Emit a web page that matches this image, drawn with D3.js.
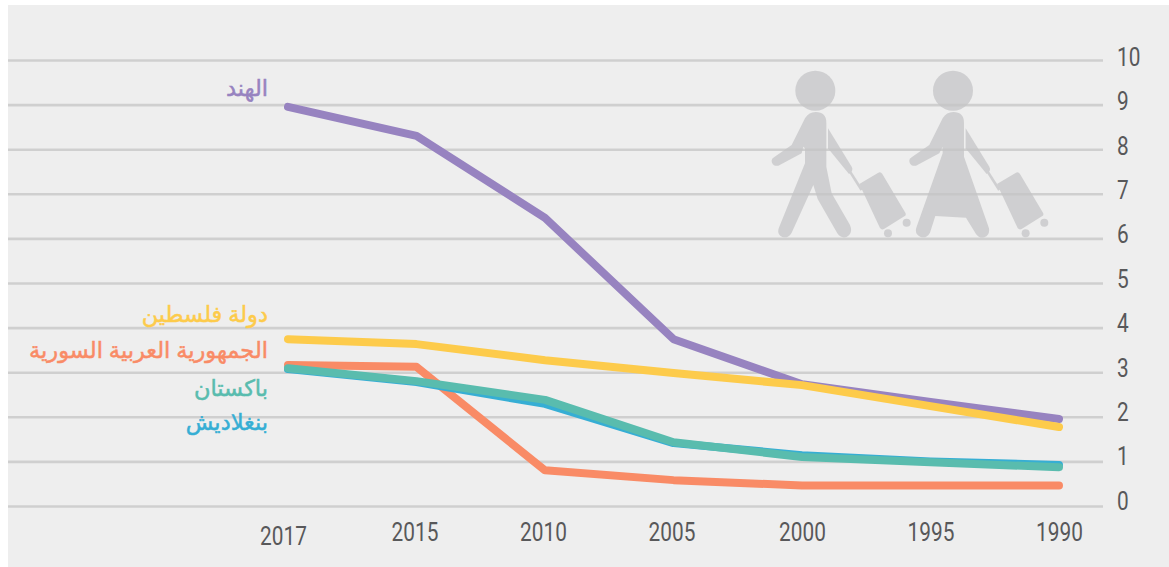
<!DOCTYPE html>
<html lang="ar">
<head>
<meta charset="utf-8">
<title>chart</title>
<script src="https://cdn.jsdelivr.net/npm/d3@7.9.0/dist/d3.min.js"></script>
<style>
    html, body { margin: 0; padding: 0; background: #fff; }
    svg { display: block; }
    .tick text { font-family: "Roboto", sans-serif; font-size: 26px; fill: #58585a; }
    .label { font-family: "Noto Sans", "DejaVu Sans", sans-serif; font-size: 22.5px; text-anchor: end; stroke-width: 0.5px; }
</style>
</head>
<body>
<div id="chart"></div>
<script>
    var years = ['2017', '2015', '2010', '2005', '2000', '1995', '1990']
    var yTicks = [0, 1, 2, 3, 4, 5, 6, 7, 8, 9, 10]

    var india = [8.95, 8.3, 6.46, 3.74, 2.73, 2.33, 1.95]
    var palestine = [3.74, 3.63, 3.27, 2.98, 2.71, 2.24, 1.77]
    var syria = [3.16, 3.12, 0.8, 0.58, 0.46, 0.46, 0.46]
    var bangladesh = [3.07, 2.78, 2.29, 1.41, 1.14, 1.0, 0.92]
    var pakistan = [3.09, 2.8, 2.38, 1.43, 1.1, 0.98, 0.87]

    // draw order: last one sits on top
    var series = [
        { name: 'الهند', values: india, color: '#9783c0', labelY: 96 },
        { name: 'دولة فلسطين', values: palestine, color: '#fdcb4b', labelY: 322 },
        { name: 'الجمهورية العربية السورية', values: syria, color: '#f98b66', labelY: 358 },
        { name: 'بنغلاديش', values: bangladesh, color: '#36aed4', labelY: 430 },
        { name: 'باكستان', values: pakistan, color: '#59bcae', labelY: 396 },
    ]

    var W = 1169, H = 567
    var svg = d3.select('#chart').append('svg').attr('width', W).attr('height', H)

    svg.append('rect').attr('x', 8).attr('y', 5).attr('width', W - 8).attr('height', H - 5).attr('fill', '#eeeeee')

    var x = d3.scalePoint().domain(years).range([288, 1059])
    var y = d3.scaleLinear().domain([0, 10]).range([506, 60])

    // no condensed face is installed, so squeeze the digits to the reference width
    function squeeze(sel) {
        sel.attr('textLength', function (d) { return String(d).length * 11.7 })
            .attr('lengthAdjust', 'spacingAndGlyphs')
    }

    var gridG = svg.append('g')
        .attr('transform', 'translate(1103,0)')
        .call(d3.axisRight(y).tickValues(yTicks).tickSize(-1095).tickPadding(14).tickFormat(d3.format('d')))
    gridG.select('.domain').remove()
    gridG.selectAll('.tick line').attr('stroke', '#cfcfcf').attr('stroke-width', 2.6)
    gridG.selectAll('.tick text').attr('dy', null).attr('dominant-baseline', 'middle')
        .attr('y', function (d) { return -1.5 - (10 - d) * 0.2 })
        .call(squeeze)

    var xG = svg.append('g')
        .attr('transform', 'translate(0,506)')
        .call(d3.axisBottom(x).tickSize(0).tickPadding(12))
    xG.select('.domain').remove()
    xG.selectAll('.tick text').attr('dx', function (d) {
        return d === '2017' ? -5 : d === '2015' || d === '2010' || d === '2005' ? -2 : 0
    }).attr('dy', function (d) { return d === '2017' ? '1.05em' : '0.9em' })
        .call(squeeze)

    // travellers, traced by eye
    var icon = svg.append('g')
        .attr('transform', 'translate(750,50) scale(0.3333)')
        .attr('fill', '#c4c4c6')
        .attr('opacity', 0.72)

    function luggage(dx) {
        var g = icon.append('g').attr('transform', 'translate(' + dx + ',0)')
        g.append('path').attr('d', 'M234,235 L305,350 Q312,362 297,372 L234,295 Z')
        g.append('path').attr('d', 'M300,365 L335,420').attr('stroke', '#c4c4c6').attr('stroke-width', 8).attr('fill', 'none')
        g.append('path').attr('d', 'M328,402 L385,368 Q392,364 397,372 L466,488 Q470,495 463,499 L402,537 Q395,541 390,534 Z')
        g.append('circle').attr('cx', 414).attr('cy', 550).attr('r', 12)
        g.append('circle').attr('cx', 470).attr('cy', 518).attr('r', 12)
    }

    icon.append('circle').attr('cx', 196).attr('cy', 122).attr('r', 60)
    icon.append('path').attr('d',
        'M197,186 Q229,186 229,218 L229,350 L245,430 L300,525 Q310,550 290,561 Q272,566 262,550 ' +
        'L203,447 L190,405 L125,548 Q115,566 97,561 Q78,552 88,530 L165,340 L165,295 L160,290 L155,310 ' +
        'L85,347 Q72,350 66,338 Q62,328 72,322 L125,285 L165,205 Q177,186 197,186 Z')
    luggage(0)

    icon.append('circle').attr('cx', 609).attr('cy', 122).attr('r', 60)
    icon.append('path').attr('d',
        'M610,186 Q642,186 642,218 L642,320 L717,535 Q720,555 703,562 Q688,566 678,552 ' +
        'L648,503 L556,498 L540,548 Q530,566 512,561 Q492,552 500,530 L578,310 L578,290 L568,310 ' +
        'L498,347 Q485,350 479,338 Q475,328 485,322 L538,285 L578,205 Q590,186 610,186 Z')
    luggage(413)

    var line = d3.line()
        .x(function (d, i) { return x(years[i]) })
        .y(function (d) { return y(d) })

    svg.append('g').selectAll('path').data(series).join('path')
        .attr('d', function (s) { return line(s.values) })
        .attr('fill', 'none')
        .attr('stroke', function (s) { return s.color })
        .attr('stroke-width', 8)
        .attr('stroke-linecap', 'round')
        .attr('stroke-linejoin', 'round')

    svg.append('g').selectAll('text').data(series).join('text')
        .attr('class', 'label')
        .attr('x', 268)
        .attr('y', function (s) { return s.labelY })
        .attr('fill', function (s) { return s.color })
        .attr('stroke', function (s) { return s.color })
        .text(function (s) { return s.name })
</script>
</body>
</html>
